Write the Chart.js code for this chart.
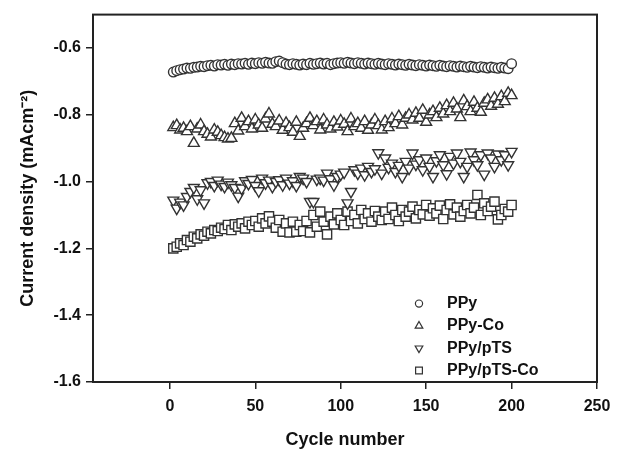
<!DOCTYPE html>
<html>
<head>
<meta charset="utf-8">
<script src="https://cdn.jsdelivr.net/npm/chart.js"></script>
<style>
  body { margin: 0; background: #fff; }
  canvas { display: block; }
</style>
</head>
<body>
<canvas id="chart" width="636" height="453"></canvas>
<script>
// cycle numbers (every 2nd cycle)
const cycles = [
  2, 4, 6, 8, 10, 12, 14, 16, 18, 20,
  22, 24, 26, 28, 30, 32, 34, 36, 38, 40,
  42, 44, 46, 48, 50, 52, 54, 56, 58, 60,
  62, 64, 66, 68, 70, 72, 74, 76, 78, 80,
  82, 84, 86, 88, 90, 92, 94, 96, 98, 100,
  102, 104, 106, 108, 110, 112, 114, 116, 118, 120,
  122, 124, 126, 128, 130, 132, 134, 136, 138, 140,
  142, 144, 146, 148, 150, 152, 154, 156, 158, 160,
  162, 164, 166, 168, 170, 172, 174, 176, 178, 180,
  182, 184, 186, 188, 190, 192, 194, 196, 198, 200
];

const ppy = [
  -0.672, -0.668, -0.665, -0.663, -0.660, -0.661, -0.658, -0.657, -0.655, -0.656,
  -0.653, -0.652, -0.654, -0.650, -0.651, -0.649, -0.652, -0.648, -0.650, -0.647,
  -0.648, -0.646, -0.649, -0.645, -0.647, -0.644, -0.646, -0.643, -0.645, -0.646,
  -0.641, -0.639, -0.644, -0.648, -0.650, -0.647, -0.649, -0.651, -0.648, -0.650,
  -0.646, -0.649, -0.647, -0.645, -0.648, -0.646, -0.650, -0.647, -0.645, -0.644,
  -0.646, -0.643, -0.645, -0.647, -0.644, -0.646, -0.648, -0.645, -0.647, -0.649,
  -0.646, -0.648, -0.650, -0.647, -0.649, -0.651, -0.648, -0.650, -0.652, -0.649,
  -0.651, -0.653, -0.650, -0.652, -0.654, -0.651, -0.653, -0.655, -0.652, -0.654,
  -0.656, -0.653, -0.655, -0.657, -0.654, -0.656, -0.658, -0.655, -0.657, -0.659,
  -0.656, -0.658, -0.660, -0.657, -0.659, -0.661, -0.658, -0.660, -0.662, -0.647
];

const ppyCo = [
  -0.838, -0.832, -0.845, -0.840, -0.850, -0.835, -0.885, -0.842, -0.830, -0.850,
  -0.858, -0.866, -0.845, -0.852, -0.862, -0.868, -0.872, -0.870, -0.826, -0.848,
  -0.810, -0.835, -0.820, -0.842, -0.815, -0.830, -0.840, -0.812, -0.797, -0.828,
  -0.835, -0.818, -0.846, -0.825, -0.838, -0.852, -0.822, -0.864, -0.840, -0.826,
  -0.810, -0.832, -0.820, -0.845, -0.815, -0.830, -0.842, -0.822, -0.836, -0.818,
  -0.828, -0.850, -0.812, -0.835, -0.826, -0.840, -0.820, -0.846, -0.830, -0.815,
  -0.832, -0.845, -0.820, -0.838, -0.812, -0.826, -0.805, -0.830, -0.810, -0.800,
  -0.815, -0.795, -0.810, -0.786, -0.822, -0.800, -0.790, -0.808, -0.780, -0.797,
  -0.772, -0.790, -0.765, -0.782, -0.808, -0.758, -0.775, -0.790, -0.762, -0.780,
  -0.792, -0.765, -0.755, -0.774, -0.750, -0.768, -0.745, -0.760, -0.735, -0.742
];

const ppyPts = [
  -1.056, -1.080, -1.062, -1.070, -1.045, -1.030, -1.018, -1.052, -1.025, -1.064,
  -1.004, -1.000, -1.012, -0.996, -1.008, -1.015, -1.002, -1.010, -1.018, -1.044,
  -1.020, -0.998, -1.006, -0.994, -1.012, -1.028, -0.990, -1.004, -0.996, -1.015,
  -1.000, -0.995, -1.010, -0.990, -1.005, -0.998, -1.012, -0.985, -0.990, -1.000,
  -1.060, -1.060, -0.993, -0.990, -0.996, -0.975, -0.992, -1.010, -0.985, -0.978,
  -0.972, -1.064, -1.030, -0.965, -0.975, -0.960, -0.980, -0.955, -0.970, -0.962,
  -0.914, -0.975, -0.930, -0.958, -0.945, -0.970, -0.952, -0.985, -0.940, -0.960,
  -0.915, -0.948, -0.935, -0.965, -0.930, -0.955, -0.985, -0.938, -0.920, -0.950,
  -0.977, -0.925, -0.945, -0.915, -0.940, -0.985, -0.955, -0.912, -0.935, -0.950,
  -0.920, -0.978, -0.915, -0.930, -0.955, -0.918, -0.935, -0.920, -0.950, -0.910
];

const ppyPtsCo = [
  -1.200, -1.195, -1.185, -1.190, -1.175, -1.180, -1.165, -1.170, -1.158, -1.162,
  -1.150, -1.155, -1.145, -1.148, -1.138, -1.142, -1.130, -1.145, -1.128, -1.135,
  -1.125, -1.140, -1.120, -1.130, -1.118, -1.135, -1.110, -1.125, -1.104, -1.120,
  -1.138, -1.115, -1.150, -1.125, -1.152, -1.120, -1.150, -1.130, -1.148, -1.118,
  -1.152, -1.100, -1.135, -1.090, -1.120, -1.158, -1.105, -1.128, -1.095, -1.115,
  -1.130, -1.090, -1.118, -1.100, -1.125, -1.085, -1.112, -1.095, -1.120, -1.088,
  -1.105, -1.115, -1.090, -1.112, -1.078, -1.100, -1.118, -1.085, -1.105, -1.090,
  -1.075, -1.110, -1.085, -1.098, -1.070, -1.102, -1.080, -1.095, -1.072, -1.112,
  -1.085, -1.068, -1.098, -1.078, -1.105, -1.088, -1.070, -1.095, -1.078, -1.040,
  -1.100, -1.065, -1.088, -1.075, -1.060, -1.113, -1.100, -1.082, -1.090, -1.070
];

const seriesNames = ["PPy", "PPy-Co", "PPy/pTS", "PPy/pTS-Co"];
const xTicks = [0, 50, 100, 150, 200, 250];
const yTicks = [-1.6, -1.4, -1.2, -1.0, -0.8, -0.6];

const ink = "#333";
const font = "'Liberation Sans', Arial, sans-serif";

function pts(ys) {
  return cycles.map((c, i) => ({ x: c, y: ys[i] }));
}

const styles = [
  { pointStyle: "circle", radius: 4.8, rotation: 0, legendRadius: 3.6 },
  { pointStyle: "triangle", radius: 6.3, rotation: 0, legendRadius: 4.4 },
  { pointStyle: "triangle", radius: 6.3, rotation: 180, legendRadius: 4.4 },
  { pointStyle: "rect", radius: 6.5, rotation: 0, legendRadius: 4.8 }
];

const allValues = [ppy, ppyCo, ppyPts, ppyPtsCo];

const datasets = allValues.map((vals, i) => ({
  label: seriesNames[i],
  data: pts(vals),
  showLine: false,
  pointStyle: styles[i].pointStyle,
  pointRadius: styles[i].radius,
  pointRotation: styles[i].rotation,
  pointBorderWidth: 1.4,
  pointBorderColor: ink,
  pointBackgroundColor: "#fff",
  borderColor: ink,
  backgroundColor: "#fff"
}));

// box round the plot + legend inside the plot
const framePlugin = {
  id: "frame",
  afterDraw(chart) {
    const { ctx, chartArea: a } = chart;
    ctx.save();
    ctx.strokeStyle = "#222";
    ctx.lineWidth = 2;
    ctx.strokeRect(a.left, a.top, a.right - a.left, a.bottom - a.top);

    const mx = a.left + 326;
    const tx = a.left + 354;
    let y = a.top + 289;
    ctx.font = "bold 16px " + font;
    ctx.textBaseline = "middle";
    seriesNames.forEach((name, i) => {
      ctx.fillStyle = "#fff";
      ctx.strokeStyle = ink;
      ctx.lineWidth = 1.2;
      Chart.helpers.drawPoint(ctx, {
        pointStyle: styles[i].pointStyle,
        radius: styles[i].legendRadius,
        rotation: styles[i].rotation,
        borderWidth: 1.2
      }, mx, y);
      ctx.fillStyle = "#111";
      ctx.fillText(name, tx, y);
      y += 22.3;
    });
    ctx.restore();
  }
};

new Chart(document.getElementById("chart"), {
  type: "scatter",
  data: { datasets },
  plugins: [framePlugin],
  options: {
    responsive: false,
    animation: false,
    layout: { padding: { top: 14, right: 39, left: 0, bottom: 0 } },
    plugins: {
      legend: { display: false },
      tooltip: { enabled: false }
    },
    scales: {
      x: {
        type: "linear",
        min: -45,
        max: 250,
        afterBuildTicks: s => { s.ticks = xTicks.map(v => ({ value: v })); },
        afterFit: s => { s.height = 71; },
        grid: { drawOnChartArea: false, drawTicks: true, tickLength: 7, color: "#222", lineWidth: 1.5 },
        border: { display: true, color: "#222", width: 2 },
        ticks: {
          color: "#111",
          padding: 8,
          maxRotation: 0,
          font: { family: font, size: 16, weight: "bold" }
        },
        title: {
          display: true,
          text: "Cycle number",
          color: "#111",
          padding: { top: 0, bottom: 2 },
          font: { family: font, size: 18, weight: "bold" }
        }
      },
      y: {
        type: "linear",
        min: -1.6,
        max: -0.5,
        afterBuildTicks: s => { s.ticks = yTicks.map(v => ({ value: v })); },
        afterFit: s => { s.width = 93; },
        grid: { drawOnChartArea: false, drawTicks: true, tickLength: 7, color: "#222", lineWidth: 1.5 },
        border: { display: true, color: "#222", width: 2 },
        ticks: {
          color: "#111",
          padding: 5,
          callback: v => v.toFixed(1),
          font: { family: font, size: 16, weight: "bold" }
        },
        title: {
          display: true,
          text: "Current density (mAcm⁻²)",
          color: "#111",
          padding: { top: 17, bottom: 0 },
          font: { family: font, size: 18, weight: "bold" }
        }
      }
    }
  }
});
</script>
</body>
</html>
